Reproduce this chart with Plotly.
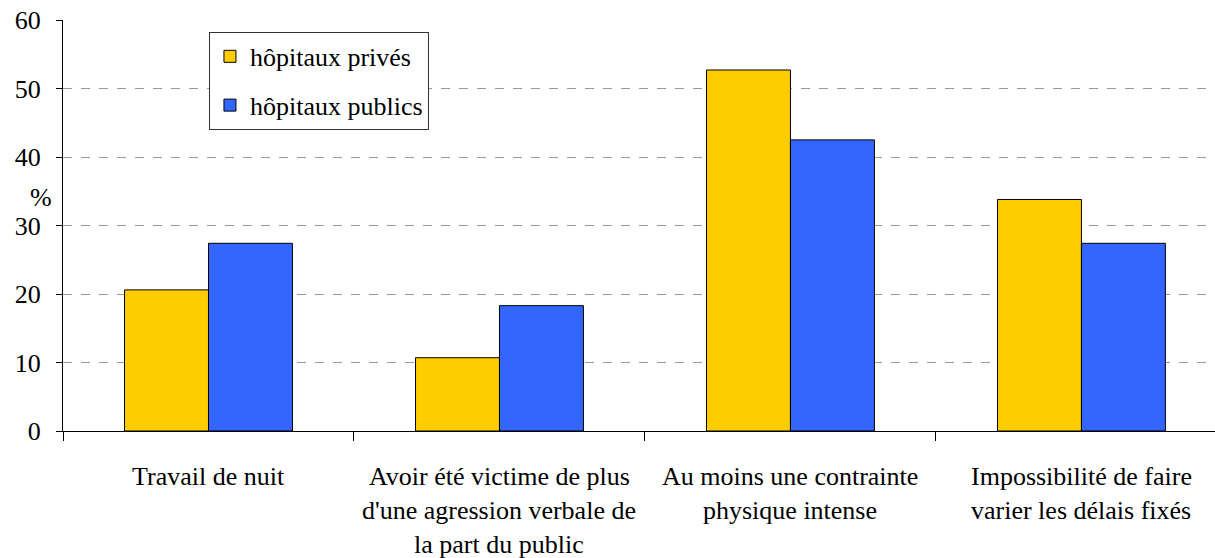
import plotly.graph_objects as go

categories = [
    "Travail de nuit",
    "Avoir été victime de plus<br>d'une agression verbale de<br>la part du public",
    "Au moins une contrainte<br>physique intense",
    "Impossibilité de faire<br>varier les délais fixés",
]
prives = [20.6, 10.7, 52.7, 33.8]
publics = [27.4, 18.3, 42.5, 27.4]

FONT = "'Liberation Serif', 'Times New Roman', Tinos, 'DejaVu Serif', serif"
SIZE = 26

fig = go.Figure()
fig.add_trace(go.Bar(
    x=categories, y=prives, name="hôpitaux privés", legendgroup="a",
    marker=dict(color="#FFCC00", line=dict(color="#000000", width=1)),
))
fig.add_trace(go.Bar(
    x=categories, y=publics, name="hôpitaux publics", legendgroup="b",
    marker=dict(color="#3366FF", line=dict(color="#000000", width=1)),
))

# category labels as annotations (wider line spacing than tick labels)
for cat in categories:
    for i, line in enumerate(cat.split("<br>")):
        fig.add_annotation(
            x=cat, y=0, xref="x", yref="paper", text=line, showarrow=False,
            yanchor="middle", yshift=-45 - 34 * i,
            font=dict(family=FONT, size=SIZE, color="black"),
        )

fig.add_annotation(
    x=-0.008, y=0.569, xref="paper", yref="paper", text="%", showarrow=False,
    xanchor="right", yanchor="middle",
    font=dict(family=FONT, size=SIZE, color="black"),
)

fig.update_layout(
    width=1215, height=558,
    margin=dict(l=63, r=0, t=20, b=127),
    paper_bgcolor="white", plot_bgcolor="white",
    barmode="group", bargap=0.423, bargroupgap=0,
    font=dict(family=FONT, size=SIZE, color="black"),
    legend=dict(
        x=0.1267, y=0.971, xanchor="left", yanchor="top",
        bordercolor="#333333", borderwidth=1, bgcolor="white",
        font=dict(family=FONT, size=SIZE), tracegroupgap=12,
    ),
    showlegend=True,
)
fig.update_xaxes(
    range=[-0.5, 3.459], showticklabels=False, tickson="boundaries",
    ticks="outside", ticklen=9, tickcolor="black",
    showline=True, linecolor="black", linewidth=1, showgrid=False,
)
fig.update_yaxes(
    range=[0, 60], dtick=10, ticks="outside", ticklen=6, tickcolor="black",
    showline=True, linecolor="black", linewidth=1,
    showgrid=True, gridcolor="#999999", griddash="dash", gridwidth=1,
    zeroline=False, ticklabelstandoff=10,
    tickfont=dict(family=FONT, size=SIZE),
)

# drop the default 8px page margin so the figure fills the window exactly
fig.write_html(
    "out.html",
    config={"displayModeBar": False},
    post_script="document.body.style.margin='0';",
)
